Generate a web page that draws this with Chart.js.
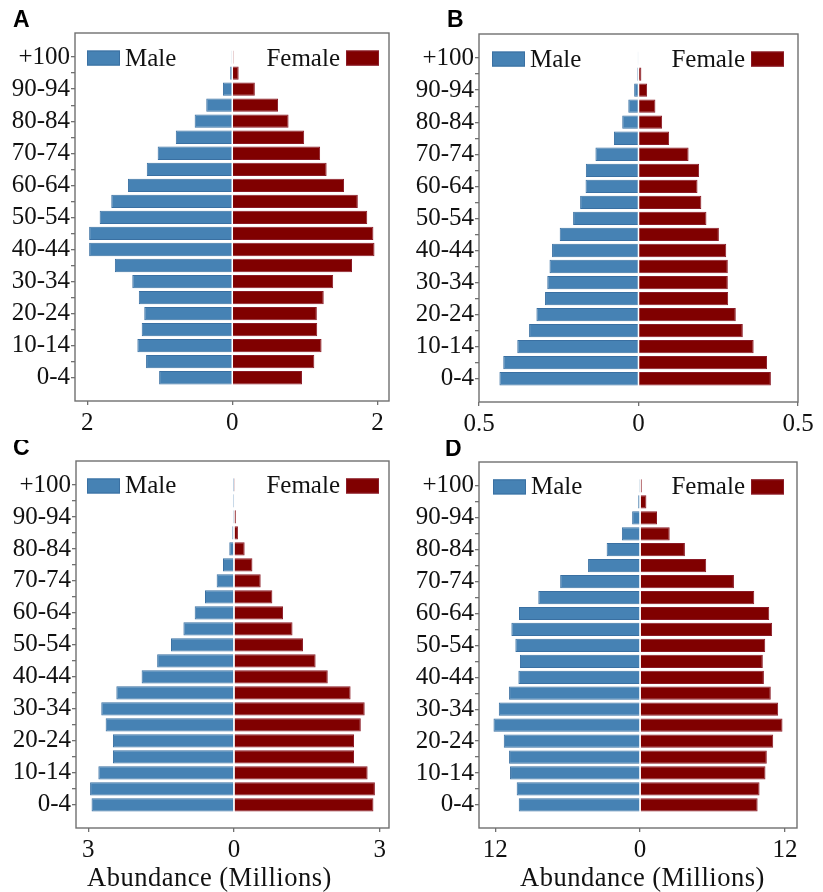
<!DOCTYPE html>
<html>
<head>
<meta charset="utf-8">
<title>Population pyramids</title>
<script src="https://cdn.jsdelivr.net/npm/chart.js@4.4.1/dist/chart.umd.min.js"></script>
<style>
  html, body { margin: 0; padding: 0; background: #ffffff; }
  #wrap { position: relative; width: 823px; height: 892px; overflow: hidden; }
  #wrap canvas { position: absolute; }
</style>
</head>
<body>
<div id="wrap">
  <canvas id="pA" width="411" height="440" style="left:0;top:0"></canvas>
  <canvas id="pB" width="412" height="440" style="left:411px;top:0"></canvas>
  <canvas id="pC" width="411" height="452" style="left:0;top:440px"></canvas>
  <canvas id="pD" width="412" height="452" style="left:411px;top:440px"></canvas>
</div>
<script>
// Five-year age groups, youngest first
const ageGroups = ['0-4','5-9','10-14','15-19','20-24','25-29','30-34','35-39','40-44','45-49',
                   '50-54','55-59','60-64','65-69','70-74','75-79','80-84','85-89','90-94','95-99','+100'];

// Abundance in millions, one value per age group (youngest first)
const maleA   = [1.01, 1.19, 1.31, 1.25, 1.215, 1.29, 1.38, 1.62, 1.975, 1.975, 1.83, 1.67, 1.44, 1.18, 1.03, 0.78, 0.52, 0.36, 0.13, 0.03, 0.005];
const femaleA = [0.96, 1.13, 1.23, 1.17, 1.165, 1.26, 1.39, 1.65, 1.96, 1.945, 1.86, 1.73, 1.54, 1.30, 1.21, 0.99, 0.775, 0.63, 0.31, 0.087, 0.015];

const maleB   = [0.436, 0.424, 0.38, 0.343, 0.32, 0.293, 0.286, 0.279, 0.271, 0.247, 0.205, 0.183, 0.166, 0.165, 0.135, 0.077, 0.051, 0.032, 0.0136, 0.004, 0.001];
const femaleB = [0.415, 0.403, 0.361, 0.327, 0.305, 0.281, 0.28, 0.28, 0.275, 0.252, 0.213, 0.197, 0.185, 0.19, 0.157, 0.096, 0.074, 0.053, 0.027, 0.009, 0.002];

const maleC   = [2.93, 2.96, 2.79, 2.49, 2.49, 2.64, 2.73, 2.42, 1.90, 1.58, 1.295, 1.04, 0.808, 0.596, 0.356, 0.226, 0.096, 0.034, 0.004, 0.002, 0.001];
const femaleC = [2.87, 2.90, 2.75, 2.47, 2.47, 2.61, 2.69, 2.40, 1.93, 1.68, 1.42, 1.205, 1.01, 0.79, 0.55, 0.38, 0.22, 0.082, 0.04, 0.012, 0.005];

const maleD   = [10.05, 10.22, 10.77, 10.85, 11.29, 12.14, 11.70, 10.85, 10.08, 9.95, 10.33, 10.66, 10.03, 8.43, 6.62, 4.31, 2.77, 1.51, 0.66, 0.16, 0.02];
const femaleD = [9.73, 9.89, 10.38, 10.49, 11.02, 11.79, 11.43, 10.82, 10.25, 10.16, 10.36, 10.93, 10.69, 9.45, 7.77, 5.47, 3.71, 2.45, 1.40, 0.52, 0.14];

// Tick values on the abundance axis of each panel
const ticksA = [-2, 0, 2];
const ticksB = [-0.5, 0, 0.5];
const ticksC = [-3, 0, 3];
const ticksD = [-12, 0, 12];

const seriesNames = ['Male', 'Female'];
const axisTitle = 'Abundance (Millions)';

// Styling
const MALE_FILL = '#4682B4', MALE_EDGE = '#3a70a2';
const FEMALE_FILL = '#800000', FEMALE_EDGE = '#8a1a26';
const FRAME = '#707070';
const TEXT = '#111111';
const SERIF = '"Liberation Serif", "Times New Roman", serif';
const SANS = '"Liberation Sans", Arial, sans-serif';

// Age-axis extent, with room above the oldest group for the legend row
const AGE_MIN = -1.45, AGE_MAX = 21.5;

// Panel layout (canvas-local plot frame, axis limits, decorations)
const panels = [
  { id: 'pA', letter: 'A', male: maleA, female: femaleA, ticks: ticksA, xMin: -2.17, xMax: 2.16,
    w: 411, h: 440, frame: { l: 75, r: 389, t: 33, b: 401 }, legendInset: [12, 10], letterAt: [13, 27], titleAt: null },
  { id: 'pB', letter: 'B', male: maleB, female: femaleB, ticks: ticksB, xMin: -0.5, xMax: 0.5,
    w: 412, h: 440, frame: { l: 68, r: 387, t: 34, b: 402 }, legendInset: [13, 14], letterAt: [36, 27], titleAt: null },
  { id: 'pC', letter: 'C', male: maleC, female: femaleC, ticks: ticksC, xMin: -3.25, xMax: 3.19,
    w: 411, h: 452, frame: { l: 76, r: 389, t: 21, b: 388 }, legendInset: [11, 10], letterAt: [13, 15], titleAt: [87, 446] },
  { id: 'pD', letter: 'D', male: maleD, female: femaleD, ticks: ticksD, xMin: -13.34, xMax: 12.99,
    w: 412, h: 452, frame: { l: 68, r: 386, t: 22, b: 388 }, legendInset: [14, 13], letterAt: [34, 16], titleAt: [109, 446] }
];

// Frame, in-plot legend, panel letter and axis title
const decorPlugin = {
  id: 'decor',
  afterDatasetsDraw(chart) {
    const { ctx, chartArea: a } = chart;
    ctx.save();
    ctx.strokeStyle = FRAME;
    ctx.lineWidth = 1.4;
    ctx.strokeRect(a.left, a.top, a.right - a.left, a.bottom - a.top);
    ctx.restore();
  },
  afterDraw(chart, args, opts) {
    const { ctx, chartArea: a, scales } = chart;
    const ds = chart.data.datasets;
    const cy = scales.y.getPixelForValue(ageGroups.length - 1) + 1;
    const rw = 33, rh = 15;
    ctx.save();
    ctx.font = '25px ' + SERIF;
    ctx.textBaseline = 'alphabetic';
    // Male entry: swatch then label
    const mx = a.left + opts.inset[0];
    ctx.fillStyle = ds[0].backgroundColor;
    ctx.fillRect(mx, cy - rh / 2, rw, rh);
    ctx.strokeStyle = ds[0].borderColor; ctx.lineWidth = 1;
    ctx.strokeRect(mx + 0.5, cy - rh / 2 + 0.5, rw - 1, rh - 1);
    ctx.fillStyle = TEXT;
    ctx.textAlign = 'left';
    ctx.fillText(ds[0].label, mx + rw + 5, cy + 7.5);
    // Female entry: label then swatch
    const fx = a.right - opts.inset[1] - rw;
    ctx.fillStyle = ds[1].backgroundColor;
    ctx.fillRect(fx, cy - rh / 2, rw, rh);
    ctx.strokeStyle = ds[1].borderColor;
    ctx.strokeRect(fx + 0.5, cy - rh / 2 + 0.5, rw - 1, rh - 1);
    ctx.fillStyle = TEXT;
    ctx.textAlign = 'right';
    ctx.fillText(ds[1].label, fx - 6, cy + 7.5);
    // Panel letter
    ctx.textAlign = 'left';
    ctx.font = 'bold 23px ' + SANS;
    ctx.fillStyle = '#000';
    ctx.fillText(opts.letter, opts.letterAt[0], opts.letterAt[1]);
    // Axis title
    if (opts.titleAt) {
      ctx.font = '26.5px ' + SERIF;
      if ('letterSpacing' in ctx) ctx.letterSpacing = '0.5px';
      ctx.fillStyle = TEXT;
      ctx.fillText(axisTitle, opts.titleAt[0], opts.titleAt[1]);
    }
    ctx.restore();
  }
};

function drawPanel(p) {
  const ctx = document.getElementById(p.id).getContext('2d');
  const f = p.frame;
  new Chart(ctx, {
    type: 'bar',
    data: {
      datasets: [
        { label: seriesNames[0], data: p.male.map((v, i) => ({ x: -v, y: i })),
          backgroundColor: MALE_FILL, borderColor: MALE_EDGE, borderWidth: 1 },
        { label: seriesNames[1], data: p.female.map((v, i) => ({ x: v, y: i })),
          backgroundColor: FEMALE_FILL, borderColor: FEMALE_EDGE, borderWidth: 1 }
      ]
    },
    options: {
      indexAxis: 'y',
      responsive: false,
      animation: false,
      devicePixelRatio: 1,
      datasets: { bar: { grouped: false, barPercentage: 0.83, categoryPercentage: 1 } },
      layout: { padding: { left: 0, top: f.t, right: p.w - f.r, bottom: 0 } },
      plugins: {
        legend: { display: false },
        tooltip: { enabled: false },
        decor: { inset: p.legendInset, letter: p.letter, letterAt: p.letterAt, titleAt: p.titleAt }
      },
      scales: {
        x: {
          type: 'linear',
          bounds: 'data',
          offset: false,
          min: p.xMin,
          max: p.xMax,
          afterBuildTicks: s => { s.ticks = p.ticks.map(v => ({ value: v })); },
          afterFit: s => { s.height = p.h - f.b; },
          ticks: {
            callback: v => String(Math.abs(v)),
            font: { family: SERIF, size: 25 },
            color: TEXT,
            padding: 3,
            maxRotation: 0,
            autoSkip: false
          },
          grid: { offset: false, drawOnChartArea: false, drawTicks: true, tickLength: 4, color: FRAME, lineWidth: 1.3 },
          border: { display: false }
        },
        y: {
          type: 'linear',
          bounds: 'data',
          offset: false,
          min: AGE_MIN,
          max: AGE_MAX,
          afterBuildTicks: s => { s.ticks = ageGroups.map((g, i) => ({ value: i })); },
          afterFit: s => { s.width = f.l; },
          ticks: {
            callback: v => (v % 2 === 0 ? ageGroups[v] : ''),
            font: { family: SERIF, size: 25 },
            color: TEXT,
            padding: 1,
            autoSkip: false
          },
          grid: { offset: false, drawOnChartArea: false, drawTicks: true, tickLength: 4, color: FRAME, lineWidth: 1.3 },
          border: { display: false }
        }
      }
    },
    plugins: [decorPlugin]
  });
}

panels.forEach(drawPanel);
</script>
</body>
</html>
